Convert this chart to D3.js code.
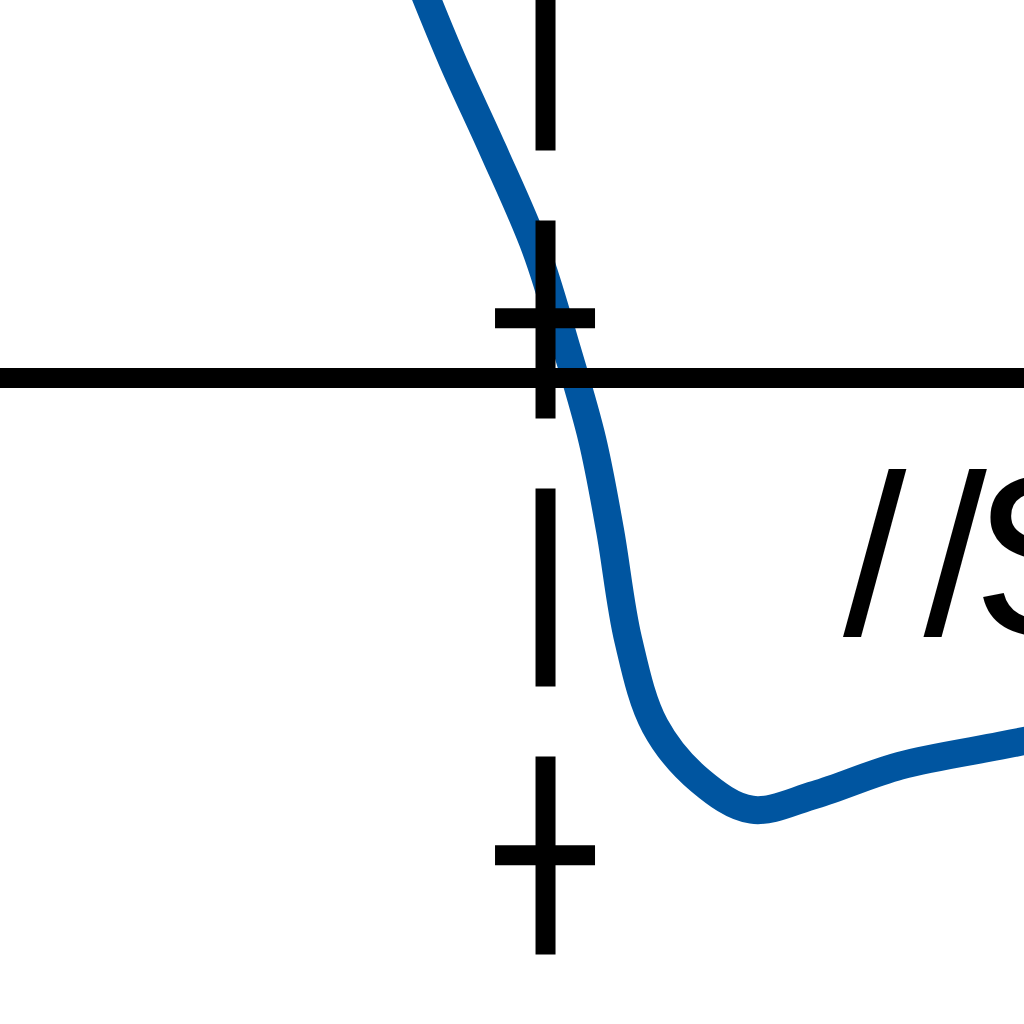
<!DOCTYPE html>
<html>
<head>
<meta charset="utf-8">
<script src="https://cdnjs.cloudflare.com/ajax/libs/d3/7.8.5/d3.min.js"></script>
<style>
  html, body { margin: 0; padding: 0; background: #fff; }
  svg { display: block; }
</style>
</head>
<body>
<div id="chart"></div>
<script>
// curve (x, y in chart units)
var curveX = [-0.242, -0.173, -0.097, -0.017, 0.041, 0.088, 0.121, 0.155, 0.205,
              0.289, 0.385, 0.503, 0.661, 0.847, 0.922];
var curveY = [1.648, 1.480, 1.313, 1.127, 0.940, 0.773, 0.605, 0.400, 0.240,
              0.138, 0.084, 0.112, 0.166, 0.203, 0.218];

var yTickValues = [0, 1];
var refLineValue = 0.888;

var labelText = "//S";
var labelX = 0.555;
var labelY = 0.41;

var svgWidth = 1024;
var svgHeight = 1024;

var svg = d3.select("#chart")
  .append("svg")
  .attr("width", svgWidth)
  .attr("height", svgHeight);

// scales: the view is a close crop, so the domains run past the edges
var xScale = d3.scaleLinear()
  .domain([-1.015, 0.892])
  .range([0, svgWidth]);

var yScale = d3.scaleLinear()
  .domain([-0.315, 1.685])
  .range([svgHeight, -50]);

// the blue curve
var line = d3.line()
  .x(d => xScale(d[0]))
  .y(d => yScale(d[1]))
  .curve(d3.curveCatmullRom.alpha(0.5));

svg.append("path")
  .datum(d3.zip(curveX, curveY))
  .attr("d", line)
  .attr("fill", "none")
  .attr("stroke", "#0055a0")
  .attr("stroke-width", 28)
  .attr("stroke-linejoin", "round");

// horizontal reference line
svg.append("line")
  .attr("x1", 0)
  .attr("x2", svgWidth)
  .attr("y1", yScale(refLineValue))
  .attr("y2", yScale(refLineValue))
  .attr("stroke", "#000")
  .attr("stroke-width", 20);

// dashed vertical axis with crossing ticks
var leftAxis = d3.axisLeft(yScale)
  .tickValues(yTickValues)
  .tickSizeInner(50)
  .tickSizeOuter(0)
  .tickFormat("");

var axisG = svg.append("g")
  .attr("transform", `translate(${xScale(0)}, 0)`)
  .call(leftAxis);

axisG.select(".domain")
  .attr("stroke", "#000")
  .attr("stroke-width", 20)
  .attr("stroke-dasharray", "198 70")
  .attr("stroke-dashoffset", 198);

axisG.selectAll(".tick line")
  .attr("x1", -50)
  .attr("x2", 50)
  .attr("stroke", "#000")
  .attr("stroke-width", 20);

// label that runs off the right edge
svg.append("text")
  .attr("x", xScale(labelX))
  .attr("y", yScale(labelY))
  .attr("dx", "0 17 -14")
  .attr("font-family", "'Liberation Sans', Arial, sans-serif")
  .attr("font-size", 228)
  .attr("fill", "#000")
  .text(labelText);
</script>
</body>
</html>
